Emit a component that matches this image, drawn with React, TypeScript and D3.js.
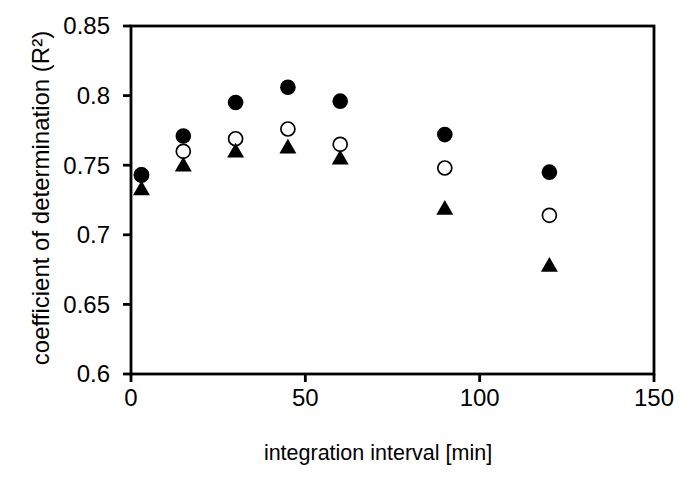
import React from "react";
import * as d3 from "d3";

const intervals = [3, 15, 30, 45, 60, 90, 120];
const filledCircle = [0.743, 0.771, 0.795, 0.806, 0.796, 0.772, 0.745];
const openCircle = [0.743, 0.760, 0.769, 0.776, 0.765, 0.748, 0.714];
const triangle = [0.732, 0.749, 0.759, 0.762, 0.754, 0.718, 0.677];
const xTicks = [0, 50, 100, 150];
const yTicks = [0.6, 0.65, 0.7, 0.75, 0.8, 0.85];
const yTickLabels = ["0.6", "0.65", "0.7", "0.75", "0.8", "0.85"];

export default function App() {
  const W = 685, H = 478;
  const left = 131, right = 654, top = 26, bottom = 374;
  const x = d3.scaleLinear().domain([0, 150]).range([left, right]);
  const y = d3.scaleLinear().domain([0.6, 0.85]).range([bottom, top]);
  const font = "'Liberation Sans', Arial, sans-serif";
  const tri = d3.symbol().type(d3.symbolTriangle).size(125)();
  return (
    <svg width={W} height={H} style={{ position: "absolute", left: 0, top: 0, background: "#fff" }}>
      <rect x={0} y={0} width={W} height={H} fill="#fff" />
      <rect x={left} y={top} width={right - left} height={bottom - top} fill="none" stroke="#000" strokeWidth={2.8} />
      {yTicks.map((t, i) => (
        <g key={"y" + i}>
          <line x1={left - 8} x2={left} y1={y(t)} y2={y(t)} stroke="#000" strokeWidth={2.8} />
          <text x={left - 21} y={y(t)} dy="0.35em" textAnchor="end" fontFamily={font} fontSize={24} fill="#000">
            {yTickLabels[i]}
          </text>
        </g>
      ))}
      {xTicks.map((t, i) => (
        <g key={"x" + i}>
          <line x1={x(t)} x2={x(t)} y1={bottom} y2={bottom + 8} stroke="#000" strokeWidth={2.8} />
          <text x={x(t)} y={bottom + 32} textAnchor="middle" fontFamily={font} fontSize={24} fill="#000">
            {t}
          </text>
        </g>
      ))}
      <text x={378} y={460} textAnchor="middle" fontFamily={font} fontSize={21.5} fill="#000">
        integration interval [min]
      </text>
      <text
        transform={`translate(49, ${198}) rotate(-90)`}
        textAnchor="middle"
        fontFamily={font}
        fontSize={24}
        fill="#000"
      >
        coefficient of determination (R²)
      </text>
      {intervals.map((v, i) => (
        <circle key={"o" + i} cx={x(v)} cy={y(openCircle[i])} r={7} fill="#fff" stroke="#000" strokeWidth={1.7} />
      ))}
      {intervals.map((v, i) => (
        <circle key={"f" + i} cx={x(v)} cy={y(filledCircle[i])} r={7.8} fill="#000" />
      ))}
      {intervals.map((v, i) => (
        <path key={"t" + i} d={tri || ""} transform={`translate(${x(v)}, ${y(triangle[i])})`} fill="#000" />
      ))}
    </svg>
  );
}
